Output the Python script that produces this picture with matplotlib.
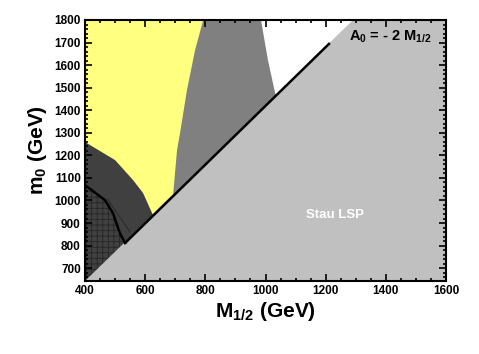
import matplotlib
matplotlib.use("Agg")
import matplotlib.pyplot as plt
import numpy as np

plt.rcParams['font.family'] = ['Liberation Sans', 'DejaVu Sans']
plt.rcParams['font.weight'] = 'bold'
plt.rcParams['mathtext.fontset'] = 'custom'
plt.rcParams['mathtext.rm'] = 'Liberation Sans:bold'
plt.rcParams['mathtext.bf'] = 'Liberation Sans:bold'
plt.rcParams['mathtext.default'] = 'bf'
plt.rcParams['hatch.linewidth'] = 0.6

# axis ranges / ticks
x_range = [400, 1600]
y_range = [643, 1800]
x_ticks = [400, 600, 800, 1000, 1200, 1400, 1600]
y_ticks = [700, 800, 900, 1000, 1100, 1200, 1300, 1400, 1500, 1600, 1700, 1800]

# Stau LSP boundary (straight edge)
stau_x = [400, 1291]
stau_y = [643, 1800]

# yellow region right boundary (top -> diagonal)
yellow_x = [793, 766, 739, 716, 706, 693]
yellow_y = [1800, 1667, 1490, 1299, 1224, 1028]

# white region left boundary (top -> diagonal)
white_x = [985, 1008, 1032, 1043]
white_y = [1800, 1623, 1476, 1440]

# dark grey region upper boundary (left edge -> diagonal)
dark_x = [400, 500, 560, 593, 626]
dark_y = [1259, 1179, 1090, 1033, 935]

# thick black curve
curve_x = [400, 466, 493, 516, 533]
curve_y = [1068, 1002, 944, 855, 811]

# black line along stau boundary
bline_x = [533, 1214]
bline_y = [811, 1698]

# thin line inside hatched area
thin_x = [475, 550]
thin_y = [1005, 860]

fig = plt.figure(figsize=(4.79, 3.54), dpi=100)
ax = fig.add_axes([85 / 479, 1 - 281 / 354, 361 / 479, 261 / 354])
ax.set_xlim(*x_range)
ax.set_ylim(*y_range)
ax.set_facecolor('white')

# medium grey: left of white boundary
gx = [400] + white_x + [400]
gy = [1800] + white_y + [y_range[0]]
ax.fill(gx, gy, color='#808080', lw=0, zorder=1)

# yellow
ax.fill([400] + yellow_x + [400], [1800] + yellow_y + [y_range[0]],
        color='#ffff80', lw=0, zorder=1.1)

# dark grey
ax.fill(dark_x + [dark_x[-1], 400], dark_y + [y_range[0], y_range[0]],
        color='#404040', lw=0, zorder=1.2)

# hatched region below black curve
ax.fill(curve_x + [curve_x[-1], 400], curve_y + [y_range[0], y_range[0]],
        facecolor='#404040', edgecolor='#262626', hatch='+++', lw=0, zorder=1.3)
ax.plot(thin_x, thin_y, color='#262626', lw=0.6, zorder=1.4)

# Stau LSP (light grey)
ax.fill([stau_x[0], stau_x[1], 1600, 1600], [stau_y[0], stau_y[1], 1800, y_range[0]],
        color='#c0c0c0', lw=0, zorder=1.5)

# black lines
ax.plot(bline_x, bline_y, color='black', lw=1.8, zorder=1.6, solid_capstyle='butt')
ax.plot(curve_x, curve_y, color='black', lw=1.8, zorder=1.6)

# text
ax.text(0.96, 0.935, r'A$_0$ = - 2 M$_{1/2}$', transform=ax.transAxes,
        ha='right', va='center', fontsize=10.5, fontweight='bold', zorder=8)
ax.text(1231, 935, 'Stau LSP', color='white', ha='center', va='center',
        fontsize=9.5, fontweight='bold', zorder=8)

ax.set_xticks(x_ticks)
ax.set_yticks(y_ticks)
ax.set_xticks(np.arange(400, 1601, 50), minor=True)
ax.set_yticks(np.arange(660, 1801, 20), minor=True)
ax.tick_params(which='both', direction='in', top=True, right=True, width=1.2)
ax.tick_params(which='major', length=5, labelsize=8.5, pad=3)
ax.tick_params(which='minor', length=2.5)
for lab in ax.get_xticklabels() + ax.get_yticklabels():
    lab.set_fontweight('bold')
ax.xaxis.set_zorder(20)
ax.yaxis.set_zorder(20)
for sp in ax.spines.values():
    sp.set_linewidth(1.5)
    sp.set_zorder(21)

ax.set_xlabel(r'M$_{1/2}$ (GeV)', fontsize=15, fontweight='bold', labelpad=2)
ax.set_ylabel(r'm$_0$ (GeV)', fontsize=15, fontweight='bold', labelpad=4)

fig.savefig('out.png', dpi=100)
